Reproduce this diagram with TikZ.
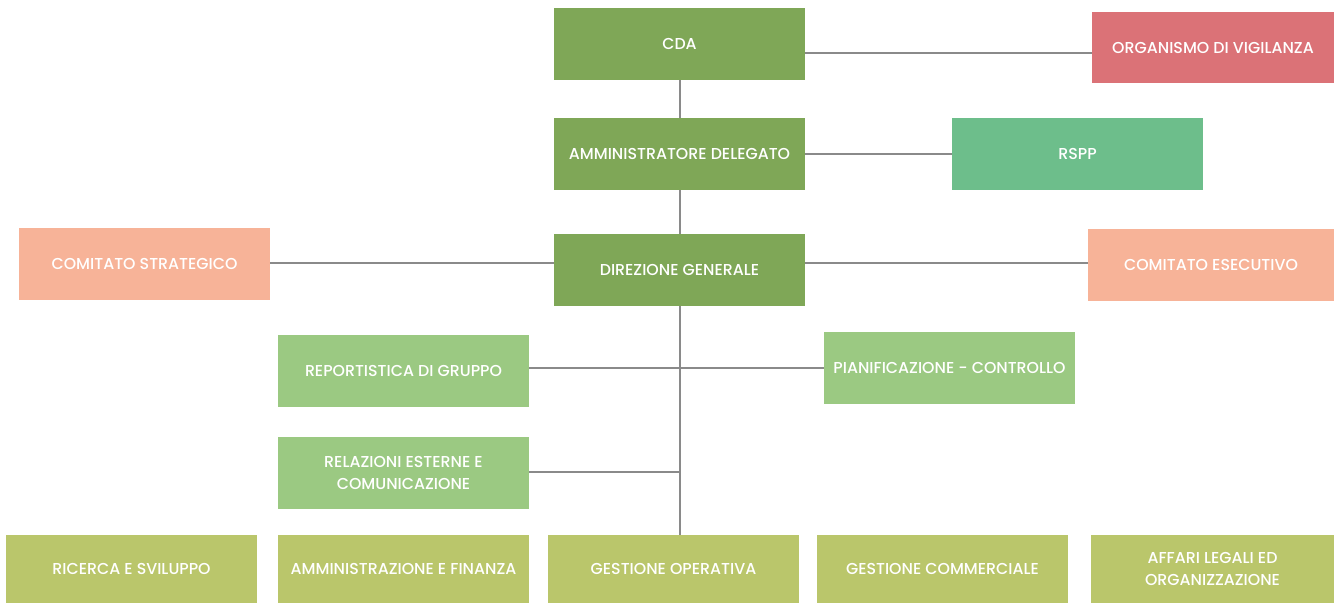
\documentclass[tikz,border=0pt]{standalone}
\usepackage{fontspec}
\setmainfont{Poppins}[BoldFont={Poppins Medium}]
\usetikzlibrary{backgrounds}
\definecolor{vertescuro}{HTML}{7FA757}
\definecolor{rosso}{HTML}{DB7277}
\definecolor{verdeacqua}{HTML}{6DBE8B}
\definecolor{salmone}{HTML}{F7B398}
\definecolor{verdechiaro}{HTML}{9BC982}
\definecolor{oliva}{HTML}{BAC66B}
\definecolor{linea}{HTML}{8A8A8A}
\tikzset{
  ufficio/.style={fill=#1, text=white, minimum width=5.02cm, minimum height=1.44cm,
    inner sep=0pt, align=center, font=\fontsize{9}{12.5}\selectfont\bfseries},
  collega/.style={draw=linea, line width=1.1pt},
}
\begin{document}
\begin{tikzpicture}[x=0.02cm,y=-0.02cm]
  \useasboundingbox (0,0) rectangle (1334,603);

  % vertice
  \node[ufficio=vertescuro] (cda) at (679.5,44) {CDA};
  \node[ufficio=rosso, minimum width=4.84cm, minimum height=1.42cm] (odv) at (1213,47.5) {ORGANISMO DI VIGILANZA};
  \node[ufficio=vertescuro] (ad) at (679.5,154) {AMMINISTRATORE DELEGATO};
  \node[ufficio=verdeacqua] (rspp) at (1077.5,154) {RSPP};

  % direzione
  \node[ufficio=salmone] (cs) at (144.5,264) {COMITATO STRATEGICO};
  \node[ufficio=vertescuro] (dg) at (679.5,270) {DIREZIONE GENERALE};
  \node[ufficio=salmone, minimum width=4.92cm] (ce) at (1211,265) {COMITATO ESECUTIVO};

  % staff
  \node[ufficio=verdechiaro] (rep) at (403.5,371) {REPORTISTICA DI GRUPPO};
  \node[ufficio=verdechiaro] (pc) at (949.5,368) {PIANIFICAZIONE - CONTROLLO};
  \node[ufficio=verdechiaro] (rel) at (403.5,473) {RELAZIONI ESTERNE E\\COMUNICAZIONE};

  % funzioni
  \node[ufficio=oliva, minimum height=1.36cm] (rs) at (131.5,569) {RICERCA E SVILUPPO};
  \node[ufficio=oliva, minimum height=1.36cm] (af) at (403.5,569) {AMMINISTRAZIONE E FINANZA};
  \node[ufficio=oliva, minimum height=1.36cm] (go) at (673.5,569) {GESTIONE OPERATIVA};
  \node[ufficio=oliva, minimum height=1.36cm] (gc) at (942.5,569) {GESTIONE COMMERCIALE};
  \node[ufficio=oliva, minimum height=1.36cm, minimum width=4.86cm] (al) at (1212.5,569) {AFFARI LEGALI ED\\ORGANIZZAZIONE};

  % collegamenti
  \begin{scope}[on background layer]
    \coordinate (tronco) at (680,0);
    \draw[collega] (cda.south -| tronco) -- (go.north -| tronco);
    \draw[collega] (cda.east |- 0,53) -- (odv.west |- 0,53);
    \draw[collega] (ad.east) -- (rspp.west);
    \draw[collega] (cs.east |- 0,263) -- (dg.west |- 0,263);
    \draw[collega] (dg.east |- 0,263) -- (ce.west |- 0,263);
    \draw[collega] (rep.east |- 0,368) -- (pc.west |- 0,368);
    \draw[collega] (rel.east |- 0,472) -- (tronco |- 0,472);
  \end{scope}
\end{tikzpicture}
\end{document}
